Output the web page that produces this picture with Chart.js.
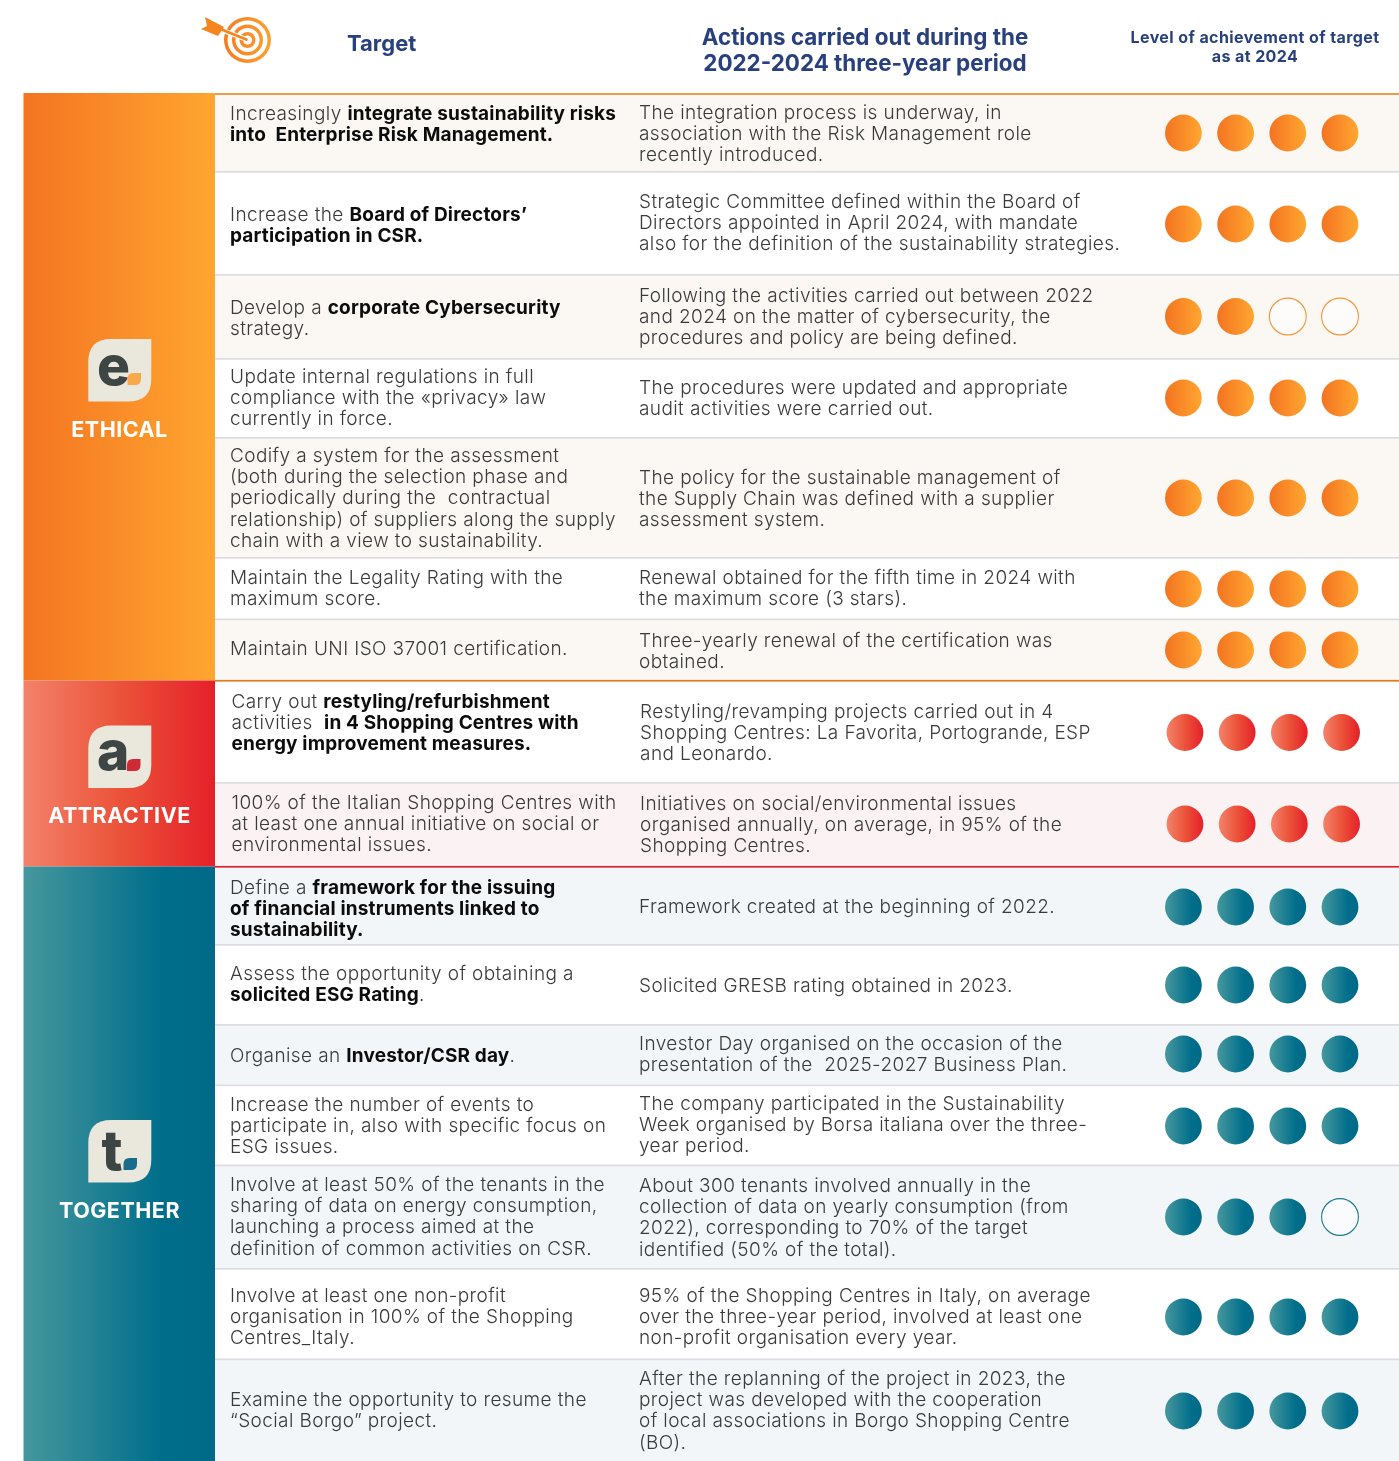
<!DOCTYPE html>
<html><head><meta charset="utf-8"><title>Targets</title>
<style>html,body{margin:0;padding:0;background:#fff}canvas{display:block}</style>
<script src="https://cdn.jsdelivr.net/npm/chart.js@4"></script></head>
<body><canvas id="c" width="1399" height="1461"></canvas>
<script>
const headerTarget = "Target";
const headerActions = ["Actions carried out during the","2022-2024 three-year period"];
const headerLevel = ["Level of achievement of target","as at 2024"];
const groupNames = ["ETHICAL","ATTRACTIVE","TOGETHER"];
const groupLetters = ["e","a","t"];
const rowGroups = [0,0,0,0,0,0,0,1,1,2,2,2,2,2,2,2];
const levelsAchieved = [4,4,2,4,4,4,4,4,4,4,4,4,4,3,4,4];
const levelSlots = [1,2,3,4];
const targets = [
 ["Increasingly **integrate sustainability risks","**into  Enterprise Risk Management."],
 ["Increase the **Board of Directors’","**participation in CSR."],
 ["Develop a **corporate Cybersecurity","strategy."],
 ["Update internal regulations in full","compliance with the «privacy» law","currently in force."],
 ["Codify a system for the assessment","(both during the selection phase and","periodically during the  contractual","relationship) of suppliers along the supply","chain with a view to sustainability."],
 ["Maintain the Legality Rating with the","maximum score."],
 ["Maintain UNI ISO 37001 certification."],
 ["Carry out **restyling/refurbishment","activities  **in 4 Shopping Centres with","**energy improvement measures."],
 ["100% of the Italian Shopping Centres with","at least one annual initiative on social or","environmental issues."],
 ["Define a **framework for the issuing","**of financial instruments linked to","**sustainability."],
 ["Assess the opportunity of obtaining a","**solicited ESG Rating**."],
 ["Organise an **Investor/CSR day**."],
 ["Increase the number of events to","participate in, also with specific focus on","ESG issues."],
 ["Involve at least 50% of the tenants in the","sharing of data on energy consumption,","launching a process aimed at the","definition of common activities on CSR."],
 ["Involve at least one non-profit","organisation in 100% of the Shopping","Centres_Italy."],
 ["Examine the opportunity to resume the","“Social Borgo” project."]
];
const actions = [
 ["The integration process is underway, in","association with the Risk Management role","recently introduced."],
 ["Strategic Committee defined within the Board of","Directors appointed in April 2024, with mandate","also for the definition of the sustainability strategies."],
 ["Following the activities carried out between 2022","and 2024 on the matter of cybersecurity, the","procedures and policy are being defined."],
 ["The procedures were updated and appropriate","audit activities were carried out."],
 ["The policy for the sustainable management of","the Supply Chain was defined with a supplier","assessment system."],
 ["Renewal obtained for the fifth time in 2024 with","the maximum score (3 stars)."],
 ["Three-yearly renewal of the certification was","obtained."],
 ["Restyling/revamping projects carried out in 4","Shopping Centres: La Favorita, Portogrande, ESP","and Leonardo."],
 ["Initiatives on social/environmental issues","organised annually, on average, in 95% of the","Shopping Centres."],
 ["Framework created at the beginning of 2022."],
 ["Solicited GRESB rating obtained in 2023."],
 ["Investor Day organised on the occasion of the","presentation of the  2025-2027 Business Plan."],
 ["The company participated in the Sustainability","Week organised by Borsa italiana over the three-","year period."],
 ["About 300 tenants involved annually in the","collection of data on yearly consumption (from","2022), corresponding to 70% of the target","identified (50% of the total)."],
 ["95% of the Shopping Centres in Italy, on average","over the three-year period, involved at least one","non-profit organisation every year."],
 ["After the replanning of the project in 2023, the","project was developed with the cooperation","of local associations in Borgo Shopping Centre","(BO)."]
];
/* row layout (vertical axis units = page rows) */
const rowEdges = [94,172,275,359,438,558,619.5,680.5,783,866.5,945,1025,1085.5,1165.5,1269,1359.5,1461];
const rowMarkCentres = [133,224,316.5,398,498,589,650,732.5,824,907,985,1054,1126,1217,1317,1411];
const targetFirstLine = [114,215,308,377,456,578,649,702,803,888,974,1056,1105,1185,1296,1400];
const actionFirstLine = [113,202,296,388,478,578,641,712,804,907,986,1044,1104,1186,1296,1379];
const rowTints = [1,0,1,0,1,0,1,0,1,1,0,1,0,1,0,1];

const FONT = '"Inter"';
const BODY = 19, LINE = 21.35, LS_LIGHT = '0.4px', LS_BOLD = '0.17px', TEXT_DY = 0;
const X_BAND0 = 23.5, X_BAND1 = 215, X_TARGET = 230, X_ACTION = 639, PAGE_W = 1399, PAGE_H = 1461;
const SLOT1_PX = 1183.4, SLOT_STEP = 52.2;
const palette = [
 {stops:[[0,'#F47421'],[1,'#FFA630']], tint:'#FBF8F4', small:'#F9A84A', shift:0, indent:0, bandTop:93, bandBottom:680.5, labelY:430, logoY:339},
 {stops:[[0,'#F3826A'],[0.5,'#EB5339'],[1,'#E5202A']], tint:'#FBF2F3', small:'#CF2A35', shift:0.03, indent:1.5, bandTop:680.5, bandBottom:866.5, labelY:816, logoY:725.5},
 {stops:[[0,'#46979D'],[0.72,'#006E8B'],[1,'#006A88']], tint:'#F2F6F9', small:'#1A6C8C', shift:0, indent:0, bandTop:866.5, bandBottom:1461, labelY:1211, logoY:1120}
];
function grad(ctx,x0,x1,stops){const g=ctx.createLinearGradient(x0,0,x1,0);stops.forEach(s=>g.addColorStop(s[0],s[1]));return g;}

const datasets = [];
palette.forEach((p,gi)=>{
  const filled=[],empty=[];
  rowGroups.forEach((g,r)=>{ if(g!==gi) return;
    levelSlots.forEach(s=>{(s<=levelsAchieved[r]?filled:empty).push({x:s+p.shift,y:rowMarkCentres[r]});});
  });
  datasets.push({label:groupNames[gi],data:filled,pointRadius:18.4,pointBorderWidth:0,showLine:false,
    pointBackgroundColor:c=>{
      if(!c.parsed) return p.stops[0][1];
      const px=c.chart.scales.x.getPixelForValue(c.parsed.x);
      if(!isFinite(px)) return p.stops[0][1];
      return grad(c.chart.ctx,px-18,px+18,p.stops);} });
  if(empty.length) datasets.push({label:groupNames[gi]+' not achieved',data:empty,pointRadius:18.4,pointBorderWidth:1.1,showLine:false,
    pointBackgroundColor:'rgba(255,255,255,0.6)',pointBorderColor:gi===0?'#F7943A':'#1A7B90'});
});

function richLine(ctx,line,x,y,bold){
  const parts=line.split('**'); let b=bold,cx=x;
  parts.forEach((seg,i)=>{ if(i>0) b=!b; if(!seg) return;
    ctx.font=(b?'700 ':'300 ')+BODY+'px '+FONT; ctx.fillStyle=b?'#0c0c0c':'#3a3a3a';
    ctx.letterSpacing=b?LS_BOLD:LS_LIGHT;
    ctx.fillText(seg,cx,y); cx+=ctx.measureText(seg).width; });
  return b;
}
function leaf(ctx,x,y,w,h,r,col){
  ctx.beginPath();ctx.moveTo(x+r,y);ctx.lineTo(x+w,y);ctx.lineTo(x+w,y+h-r);
  ctx.quadraticCurveTo(x+w,y+h,x+w-r,y+h);ctx.lineTo(x,y+h);ctx.lineTo(x,y+r);
  ctx.quadraticCurveTo(x,y,x+r,y);ctx.closePath();ctx.fillStyle=col;ctx.fill();
}
function targetIcon(ctx){
  const cx=247.5,cy=40;
  const g=grad(ctx,224,272,[[0,'#F47C20'],[1,'#FFA030']]);
  ctx.fillStyle=g;ctx.beginPath();ctx.ellipse(cx,cy,23.5,23,0,0,7);ctx.fill();
  ctx.fillStyle='#fff';ctx.beginPath();ctx.ellipse(cx,cy,20,19.5,0,0,7);ctx.fill();
  ctx.fillStyle=g;ctx.beginPath();ctx.arc(cx,cy,15.5,0,7);ctx.fill();
  ctx.fillStyle='#fff';ctx.beginPath();ctx.arc(cx,cy,12,0,7);ctx.fill();
  ctx.fillStyle=g;ctx.beginPath();ctx.arc(cx,cy,8,0,7);ctx.fill();
  ctx.fillStyle='#fff';ctx.beginPath();ctx.arc(cx,cy,4.5,0,7);ctx.fill();
  ctx.strokeStyle='#fff';ctx.lineWidth=5;ctx.beginPath();ctx.moveTo(222,30);ctx.lineTo(cx-2,cy-1);ctx.stroke();
  ctx.strokeStyle='#F5861F';ctx.lineWidth=2.8;ctx.beginPath();ctx.moveTo(218,28);ctx.lineTo(cx,cy);ctx.stroke();
  ctx.fillStyle='#F5861F';ctx.beginPath();ctx.moveTo(205,17);ctx.lineTo(224,27);ctx.lineTo(218,36);ctx.lineTo(201,29);ctx.lineTo(207,26);ctx.closePath();ctx.fill();
}
const tablePlugin={id:'table',
 beforeDatasetsDraw(ch){
  const ctx=ch.ctx,y=ch.scales.y;ctx.save();
  rowGroups.forEach((g,r)=>{const t=y.getPixelForValue(rowEdges[r]),b=y.getPixelForValue(rowEdges[r+1]);
    ctx.fillStyle=rowTints[r]?palette[g].tint:'#fff';ctx.fillRect(X_BAND1,t,PAGE_W-X_BAND1,b-t);});
  ctx.fillStyle='#DEDBE3';
  rowEdges.slice(1,-1).forEach(v=>{const p=y.getPixelForValue(v);ctx.fillRect(X_BAND1,p-1,PAGE_W-X_BAND1,1.7);});
  ctx.fillStyle='#E89E4A';ctx.fillRect(X_BAND1,93,PAGE_W-X_BAND1,2);
  ctx.fillStyle='#DF7F1C';ctx.fillRect(X_BAND1,y.getPixelForValue(680.5)-.5,PAGE_W-X_BAND1,1.6);
  ctx.fillStyle='#E3202C';ctx.fillRect(X_BAND1,y.getPixelForValue(866.5)-.5,PAGE_W-X_BAND1,1.6);
  palette.forEach((p,i)=>{
    ctx.fillStyle=grad(ctx,X_BAND0,X_BAND1,p.stops);
    ctx.fillRect(X_BAND0,p.bandTop,X_BAND1-X_BAND0,p.bandBottom-p.bandTop);
    leaf(ctx,88.3,p.logoY,63,62.5,23,'#EAE7DC');
    ctx.fillStyle='#3D4645';ctx.textBaseline='alphabetic';ctx.textAlign='left';
    ctx.font='800 55px '+FONT;
    const lx=[97,97,101.5][i], ly=p.logoY+[46,44,50][i];
    ctx.fillText(groupLetters[i],lx,ly);
    leaf(ctx,[127.5,127,123.5][i],p.logoY+[34,33.5,38][i],13.5,12,6,p.small);
    ctx.fillStyle='#fff';ctx.font='700 21.5px '+FONT;ctx.textAlign='center';ctx.textBaseline='middle';
    ctx.letterSpacing='0.5px';ctx.fillText(groupNames[i],119.5,p.labelY+0.5);ctx.letterSpacing='0px';
  });
  ctx.restore();
 },
 afterDatasetsDraw(ch){
  const ctx=ch.ctx;ctx.save();
  targetIcon(ctx);
  ctx.fillStyle='#28407E';ctx.textBaseline='middle';
  ctx.textAlign='left';ctx.font='700 22px '+FONT;ctx.fillText(headerTarget,347,44);
  ctx.textAlign='center';ctx.font='700 22.4px '+FONT;
  headerActions.forEach((t,i)=>ctx.fillText(t,865,38+26*i));
  ctx.font='700 16px '+FONT;ctx.letterSpacing='0.4px';
  headerLevel.forEach((t,i)=>ctx.fillText(t,1255,38.5+19*i));
  ctx.textAlign='left';
  const yS=ch.scales.y;
  rowGroups.forEach((g,r)=>{
    const ind=palette[g].indent;
    targets[r].forEach((l,i)=>{richLine(ctx,l,X_TARGET+ind,yS.getPixelForValue(targetFirstLine[r]+LINE*i)+TEXT_DY,false);});
    actions[r].forEach((l,i)=>{richLine(ctx,l,X_ACTION+ind*.7,yS.getPixelForValue(actionFirstLine[r]+LINE*i)+TEXT_DY,false);});
  });
  ctx.restore();
 }
};
new Chart(document.getElementById('c'),{
 type:'scatter',
 data:{datasets},
 options:{responsive:false,animation:false,events:[],
  layout:{padding:0,autoPadding:false},
  plugins:{legend:{display:false},tooltip:{enabled:false},title:{display:false}},
  scales:{
   x:{type:'linear',display:false,min:1-SLOT1_PX/SLOT_STEP,max:1+(PAGE_W-SLOT1_PX)/SLOT_STEP},
   y:{type:'linear',display:false,reverse:true,min:0,max:PAGE_H}
  }},
 plugins:[tablePlugin]
});
</script></body></html>
